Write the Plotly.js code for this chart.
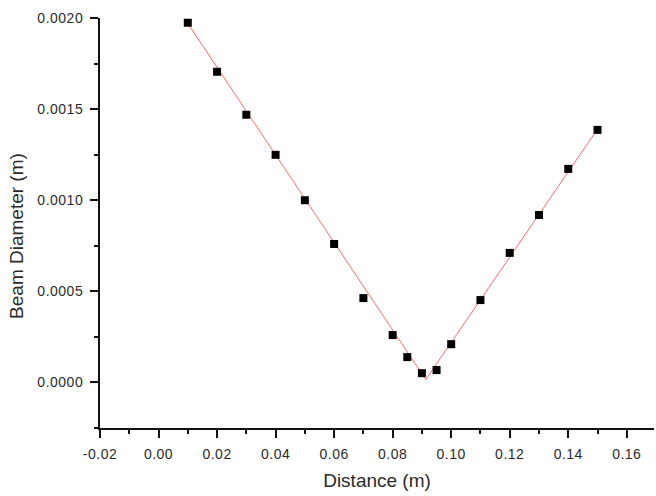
<!DOCTYPE html>
<html>
<head>
<meta charset="utf-8">
<script src="https://cdn.plot.ly/plotly-3.0.1.min.js"></script>
<style>
html,body{margin:0;padding:0;background:#fff;}
#chart{width:656px;height:496px;}
.xtick text, .ytick text{letter-spacing:0.5px;}
</style>
</head>
<body>
<div id="chart"></div>
<script>
// Measured data points
const distance = [0.01, 0.02, 0.03, 0.04, 0.05, 0.06, 0.07, 0.08, 0.085, 0.09, 0.095, 0.10, 0.11, 0.12, 0.13, 0.14, 0.15];
const diameter = [0.001974, 0.001705, 0.001469, 0.001249, 0.001000, 0.000760, 0.000463, 0.000260, 0.000139, 0.000051, 0.000068, 0.000210, 0.000452, 0.000711, 0.000919, 0.001172, 0.001386];
// Fitted curve
const fitX = [0.01, 0.0913, 0.15];
const fitY = [0.001970, 0.000016, 0.001390];
// Tick labels
const xTicks = [-0.02, 0.00, 0.02, 0.04, 0.06, 0.08, 0.10, 0.12, 0.14, 0.16];
const xTickText = ["-0.02", "0.00", "0.02", "0.04", "0.06", "0.08", "0.10", "0.12", "0.14", "0.16"];
const yTicks = [0.0000, 0.0005, 0.0010, 0.0015, 0.0020];
const yTickText = ["0.0000", "0.0005", "0.0010", "0.0015", "0.0020"];

const font = {family: "Liberation Sans, Arial, sans-serif", color: "#2b2b2b"};
const axColor = "#111111";

const traces = [
  {x: fitX, y: fitY, mode: "lines", line: {color: "#f56a6a", width: 1}, hoverinfo: "skip"},
  {x: distance, y: diameter, mode: "markers", marker: {symbol: "square", size: 8, color: "#000000"}}
];

const layout = {
  width: 656, height: 496,
  margin: {l: 100, r: 2, t: 18, b: 68},
  paper_bgcolor: "#ffffff", plot_bgcolor: "#ffffff",
  showlegend: false,
  font: Object.assign({size: 14}, font),
  xaxis: {
    range: [-0.02, 0.1693],
    tickvals: xTicks, ticktext: xTickText,
    ticks: "outside", ticklen: 8, tickwidth: 2, tickcolor: axColor,
    ticklabelstandoff: 4,
    minor: {dtick: 0.01, tick0: 0, ticks: "outside", ticklen: 4, tickwidth: 2, tickcolor: axColor},
    showline: true, linecolor: axColor, linewidth: 2,
    showgrid: false, zeroline: false,
    tickfont: Object.assign({size: 14}, font),
    title: {text: "Distance (m)", font: Object.assign({size: 19}, font), standoff: 13}
  },
  yaxis: {
    range: [-0.00025, 0.0020],
    tickvals: yTicks, ticktext: yTickText,
    ticks: "outside", ticklen: 8, tickwidth: 2, tickcolor: axColor,
    ticklabelstandoff: 4,
    minor: {dtick: 0.00025, tick0: 0, ticks: "outside", ticklen: 4, tickwidth: 2, tickcolor: axColor},
    showline: true, linecolor: axColor, linewidth: 2,
    showgrid: false, zeroline: false,
    tickfont: Object.assign({size: 14}, font)
  },
  annotations: [{
    text: "Beam Diameter (m)", textangle: -90,
    xref: "paper", yref: "paper", x: -0.152, y: 0.468,
    xanchor: "center", yanchor: "middle", showarrow: false,
    font: Object.assign({size: 19}, font)
  }]
};

Plotly.newPlot("chart", traces, layout, {displayModeBar: false, staticPlot: true});
</script>
</body>
</html>
